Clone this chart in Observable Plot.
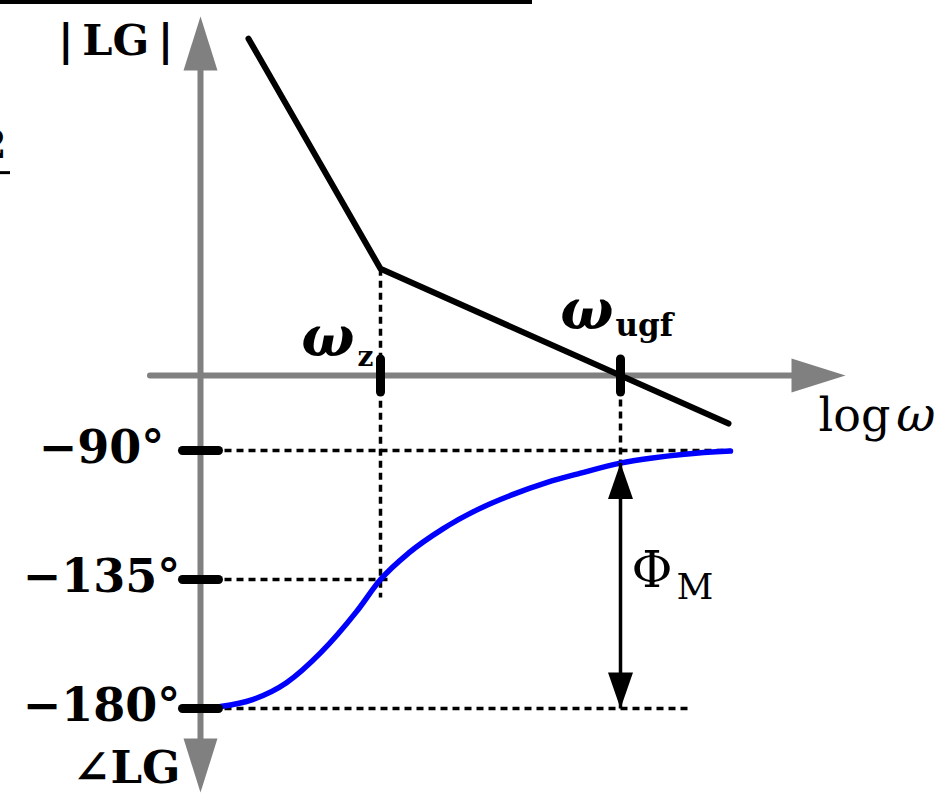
<!DOCTYPE html>
<html>
<head>
<meta charset="utf-8">
<script src="https://cdn.jsdelivr.net/npm/d3@7"></script>
<script src="https://cdn.jsdelivr.net/npm/@observablehq/plot@0.6"></script>
<style>
  html, body { margin: 0; padding: 0; background: #fff; }
  #chart { width: 938px; height: 793px; }
</style>
</head>
<body>
<div id="chart"></div>
<script>
// Asymptotic Bode sketch of a loop gain LG with one zero at ωz.
// x: decades of frequency relative to the zero, log10(ω/ωz).
// y: phase in degrees; the magnitude (dB) is placed on the same axis by dbToAxis().

// Magnitude asymptotes (corner at the zero)
const magFreq = [-0.66, 0, 1.74];
const magDb   = [75.7, 24.0, -10.8];

// Phase curve
const phaseFreq = [-0.8, -0.64, -0.47, -0.3, -0.12, 0, 0.14, 0.31, 0.48, 0.66, 0.83, 1.0, 1.2, 1.35, 1.52, 1.75];
const phaseDeg  = [-179.3, -176.9, -171.0, -160.6, -146.2, -135.0, -125.8, -117.4, -110.8, -105.4, -101.2, -97.9, -94.4, -92.7, -91.3, -90.2];

// Phase axis ticks
const phaseTicks      = [-90, -135, -180];
const phaseTickLabels = ["\u221290\u00b0", "\u2212135\u00b0", "\u2212180\u00b0"];

// Marked frequencies
const wZ   = 0;    // zero
const wUgf = 1.2;  // unity-gain frequency
const phaseAtUgf = phaseDeg[phaseFreq.indexOf(wUgf)];

// ---- layout ----
const W = 938, H = 793;
const X_DOMAIN = [-1.9, 2.79];
const Y_DOMAIN = [66.98, -209.65];
const ZERO_DB_AT = -63.84;   // where 0 dB (the log ω axis) sits on the phase axis
const DEG_PER_DB = 1.552;
const dbToAxis = db => ZERO_DB_AT + db * DEG_PER_DB;

const AXIS_X = -0.9;         // vertical axis position
const LOGW_START = -1.15, LOGW_TIP = 2.325;
const MAG_TIP_DB = 80.7;     // top arrow tip
const PHASE_TIP = -209.3;    // bottom arrow tip

const gray = "#808080";
const serif = "DejaVu Serif";

// filled arrowhead: tip at the anchor, body extending along +y (pointing up before rotation)
const arrowHead = (len, half) => ({
  draw(ctx) {
    ctx.moveTo(0, 0);
    ctx.lineTo(half, len);
    ctx.lineTo(-half, len);
    ctx.closePath();
  }
});
// rounded bar used for the ticks (w along x, h along y)
const capsule = (w, h) => ({
  draw(ctx) {
    const r = Math.min(w, h) / 2;
    if (w >= h) {
      const a = w / 2 - r;
      ctx.moveTo(-a, -r); ctx.lineTo(a, -r);
      ctx.arc(a, 0, r, -Math.PI / 2, Math.PI / 2);
      ctx.lineTo(-a, r);
      ctx.arc(-a, 0, r, Math.PI / 2, 3 * Math.PI / 2);
    } else {
      const a = h / 2 - r;
      ctx.moveTo(r, -a); ctx.lineTo(r, a);
      ctx.arc(0, a, r, 0, Math.PI);
      ctx.lineTo(-r, -a);
      ctx.arc(0, -a, r, Math.PI, 2 * Math.PI);
    }
    ctx.closePath();
  }
});

const magData = magFreq.map((f, i) => ({f, y: dbToAxis(magDb[i])}));
const phaseData = phaseFreq.map((f, i) => ({f, y: phaseDeg[i]}));
const tickData = phaseTicks.map((p, i) => ({p, label: phaseTickLabels[i]}));
const zeroDb = dbToAxis(0);

const guides = [
  {x1: AXIS_X, y1: -90,  x2: phaseFreq[phaseFreq.length - 1], y2: -90},
  {x1: AXIS_X, y1: -135, x2: 0.06, y2: -135},
  {x1: AXIS_X, y1: -180, x2: 1.56, y2: -180},
  {x1: wZ, y1: dbToAxis(magDb[1]), x2: wZ, y2: -141.3},
  {x1: wUgf, y1: zeroDb, x2: wUgf, y2: phaseAtUgf}
];

const bold = {fontFamily: serif, fontWeight: "bold", lineAnchor: "bottom", fill: "black"};
const plain = {fontFamily: serif, lineAnchor: "bottom", fill: "black"};

const chart = Plot.plot({
  width: W,
  height: H,
  margin: 0,
  x: {domain: X_DOMAIN, range: [0, W], axis: null},
  y: {domain: Y_DOMAIN, range: [0, H], axis: null},
  style: {background: "white", overflow: "visible"},
  marks: [
    // frame line along the top edge and the neighbouring fraction
    Plot.ruleY([Y_DOMAIN[0]], {x1: X_DOMAIN[0], x2: 0.76, dy: 1.5, stroke: "black", strokeWidth: 4}),
    Plot.text(["2"], {x: () => X_DOMAIN[0], y: () => dbToAxis(48.8), text: d => d, textAnchor: "end", dx: 6, ...bold, fontSize: 40}),
    Plot.ruleY([dbToAxis(45.6)], {x1: X_DOMAIN[0], x2: -1.85, stroke: "black", strokeWidth: 3}),

    // dotted guides
    Plot.link(guides, {x1: "x1", y1: "y1", x2: "x2", y2: "y2", stroke: "black", strokeWidth: 3.5, strokeDasharray: "7,5"}),

    // axes
    Plot.ruleY([zeroDb], {x1: () => LOGW_START, x2: () => LOGW_TIP, insetRight: 40, stroke: gray, strokeWidth: 6, strokeLinecap: "round"}),
    Plot.ruleX([AXIS_X], {y1: () => dbToAxis(MAG_TIP_DB), y2: () => PHASE_TIP, insetTop: 40, insetBottom: 40, stroke: gray, strokeWidth: 6}),
    Plot.dot([
      {x: AXIS_X, y: dbToAxis(MAG_TIP_DB), r: 0},
      {x: AXIS_X, y: PHASE_TIP, r: 180},
      {x: LOGW_TIP, y: zeroDb, r: 90}
    ], {x: "x", y: "y", rotate: "r", symbol: arrowHead(54, 17), fill: gray, stroke: "none"}),

    // magnitude asymptotes
    Plot.line(magData, {x: "f", y: "y", stroke: "black", strokeWidth: 6, strokeLinecap: "round", strokeLinejoin: "round"}),

    // phase
    Plot.line(phaseData, {x: "f", y: "y", curve: "monotone-x", stroke: "#0000ff", strokeWidth: 5.5, strokeLinecap: "round"}),

    // ticks
    Plot.dot(tickData, {x: () => AXIS_X, y: "p", symbol: capsule(45, 9), fill: "black", stroke: "none"}),
    Plot.dot([wZ, wUgf], {x: d => d, y: () => zeroDb, symbol: capsule(9, 42), fill: "black", stroke: "none"}),

    // phase margin arrow
    Plot.link([{x: wUgf, y1: phaseAtUgf, y2: -180}], {x1: "x", x2: "x", y1: "y1", y2: "y2", stroke: "black", strokeWidth: 3.5}),
    Plot.dot([
      {x: wUgf, y: phaseAtUgf, r: 0},
      {x: wUgf, y: -180, r: 180}
    ], {x: "x", y: "y", rotate: "r", symbol: arrowHead(36, 12.5), fill: "black", stroke: "none"}),

    // labels
    Plot.text(tickData, {x: () => AXIS_X, y: "p", text: "label", textAnchor: "middle", dx: -99, dy: 12, fontSize: 46, ...bold}),
    Plot.text(["|\u2009LG\u2009|"], {x: () => AXIS_X, y: () => dbToAxis(MAG_TIP_DB), text: d => d, textAnchor: "end", dx: -27, dy: 39, fontSize: 43, ...bold}),
    Plot.text(["\u2220LG"], {x: () => AXIS_X, y: () => PHASE_TIP, text: d => d, textAnchor: "end", dx: -20, dy: -9, fontSize: 45, ...bold}),
    Plot.text(["log"], {x: () => LOGW_TIP, y: () => zeroDb, text: d => d, textAnchor: "start", dx: -27, dy: 55, fontSize: 46, ...plain}),
    Plot.text(["\u03c9"], {x: () => LOGW_TIP, y: () => zeroDb, text: d => d, textAnchor: "end", dx: 90, dy: 55, fontSize: 48, fontStyle: "italic", ...plain}),

    Plot.text(["\u03c9"], {x: () => wZ, y: () => zeroDb, text: d => d, textAnchor: "end", dx: -26, dy: -20, fontSize: 56, fontStyle: "italic", ...bold}),
    Plot.text(["z"], {x: () => wZ, y: () => zeroDb, text: d => d, textAnchor: "end", dx: -7, dy: -10, fontSize: 28, ...bold}),
    Plot.text(["\u03c9"], {x: () => wUgf, y: () => zeroDb, text: d => d, textAnchor: "end", dx: -7, dy: -47, fontSize: 56, fontStyle: "italic", ...bold}),
    Plot.text(["ugf"], {x: () => wUgf, y: () => zeroDb, text: d => d, textAnchor: "start", dx: -5, dy: -40, fontSize: 31, ...bold}),

    Plot.text(["\u03a6"], {x: () => wUgf, y: () => -135, text: d => d, textAnchor: "start", dx: 11, dy: 7, fontSize: 50, ...plain}),
    Plot.text(["M"], {x: () => wUgf, y: () => -135, text: d => d, textAnchor: "start", dx: 56, dy: 19, fontSize: 36, ...plain})
  ]
});

document.getElementById("chart").appendChild(chart);
</script>
</body>
</html>
